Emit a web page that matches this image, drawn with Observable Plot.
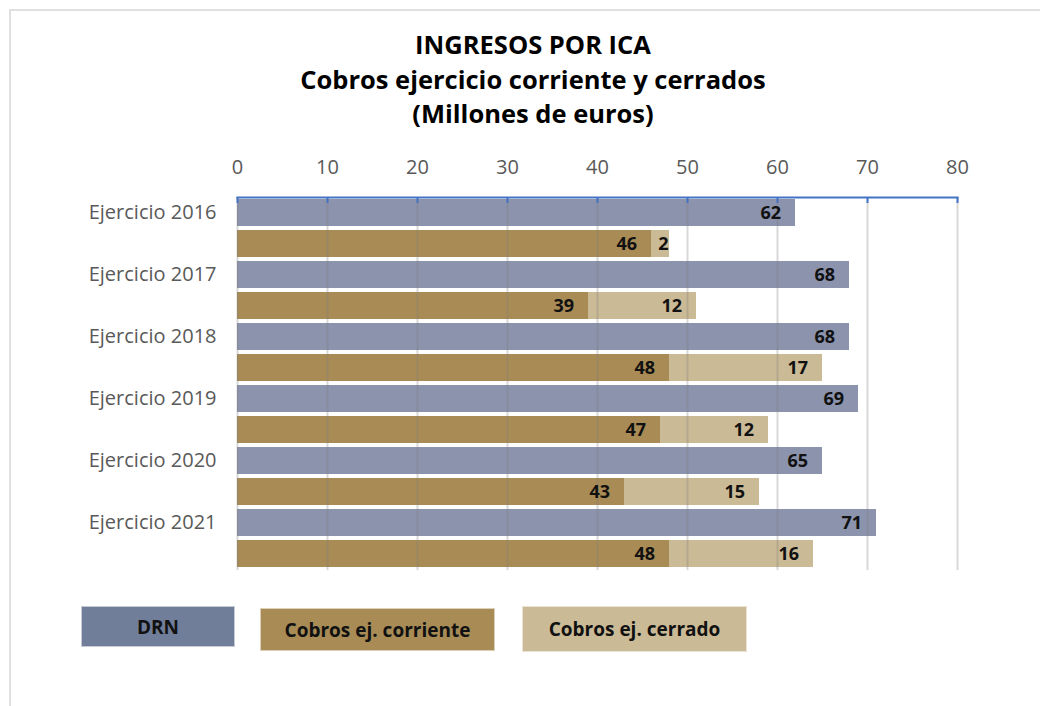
<!DOCTYPE html>
<html>
<head>
<meta charset="utf-8">
<script src="https://cdn.jsdelivr.net/npm/d3@7"></script>
<script src="https://cdn.jsdelivr.net/npm/@observablehq/plot@0.6"></script>
<style>
  html, body { margin: 0; padding: 0; background: #fff; }
  #wrap { position: relative; width: 1040px; height: 706px; overflow: hidden; font-family: "Open Sans", sans-serif; }
  #border { position: absolute; left: 9px; top: 9px; width: 1100px; height: 800px; border: 2px solid #e0e0e0; box-sizing: border-box; }
  #title { position: absolute; left: 0; top: 27px; width: 1066px; text-align: center; font-weight: bold; font-size: 25.5px; line-height: 34.5px; color: #000; }
  #chart { position: absolute; left: 0; top: 0; }
  .leg { position: absolute; display: flex; align-items: center; justify-content: center; font-weight: bold; font-size: 19px; color: #111; box-sizing: border-box; }
</style>
</head>
<body>
<div id="wrap">
  <div id="border"></div>
  <div id="chart"></div>
  <div id="title">INGRESOS POR ICA<br>Cobros ejercicio corriente y cerrados<br>(Millones de euros)</div>
  <div id="legend"></div>
</div>
<script>
const years = ["2016", "2017", "2018", "2019", "2020", "2021"];
const drn = [62, 68, 68, 69, 65, 71];
const corriente = [46, 39, 48, 47, 43, 48];
const cerrado = [2, 12, 17, 12, 15, 16];
const xTicks = [0, 10, 20, 30, 40, 50, 60, 70, 80];
const seriesNames = ["DRN", "Cobros ej. corriente", "Cobros ej. cerrado"];
const seriesColors = ["#8b93ad", "#a88b55", "#cbba96"];
const legendColors = ["#717e99", "#a88b55", "#cbba96"];

// table built from the arrays (stacked manually: x1/x2 in data units)
const rows = [];
const keys = [];
const labelOf = {};
years.forEach((y, i) => {
  const kd = y + " DRN", kc = y + " Cobros";
  keys.push(kd, kc);
  labelOf[kd] = "Ejercicio " + y;
  labelOf[kc] = "";
  rows.push({key: kd, series: seriesNames[0], value: drn[i], x1: 0, x2: drn[i]});
  rows.push({key: kc, series: seriesNames[1], value: corriente[i], x1: 0, x2: corriente[i]});
  rows.push({key: kc, series: seriesNames[2], value: cerrado[i], x1: corriente[i], x2: corriente[i] + cerrado[i]});
});
// label anchor: inside end of segment, but never before the segment start when it does not fit
const labelX = d => Math.max(d.x2 - 1.6, d.x1 + 1.9);

const H = 590, mTop = 197, mBottom = 20;
const chart = Plot.plot({
  width: 1040,
  height: H,
  marginTop: mTop,
  marginBottom: mBottom,
  marginLeft: 237,
  marginRight: 83,
  style: {fontFamily: "Open Sans, sans-serif", fontSize: "17px", background: "transparent"},
  x: {domain: [0, 80], axis: null, label: null},
  y: {domain: keys, paddingInner: 0.12, paddingOuter: 0.05, axis: null, label: null},
  color: {domain: seriesNames, range: seriesColors},
  marks: [
    Plot.barX(rows, {x1: "x1", x2: "x2", y: "key", fill: "series"}),
    Plot.ruleX(xTicks, {x: d => d, stroke: "#7f7f7f", strokeOpacity: 0.3, strokeWidth: 2}),
    Plot.ruleX(xTicks, {x: d => d, stroke: "#4472c4", strokeWidth: 2, insetBottom: H - mTop - mBottom - 6}),
    Plot.frame({anchor: "top", stroke: "#4472c4", strokeWidth: 2}),
    Plot.text(rows, {x: labelX, y: "key", text: "value", textAnchor: "end", fontWeight: "bold", fontSize: 18, fill: "#111"}),
    Plot.axisX({anchor: "top", ticks: xTicks, tickSize: 0, tickPadding: 24, color: "#595959", fontSize: 20, label: null}),
    Plot.axisY({anchor: "left", tickSize: 0, tickPadding: 21, tickFormat: k => labelOf[k], color: "#595959", fontSize: 20, label: null})
  ]
});
document.getElementById("chart").appendChild(chart);

const legendBoxes = [
  {left: 81, top: 606, width: 154, height: 41},
  {left: 260, top: 608, width: 235, height: 43},
  {left: 522, top: 606, width: 225, height: 46}
];
const legend = document.getElementById("legend");
seriesNames.forEach((name, i) => {
  const d = document.createElement("div");
  d.className = "leg";
  const b = legendBoxes[i];
  d.style.left = b.left + "px";
  d.style.top = b.top + "px";
  d.style.width = b.width + "px";
  d.style.height = b.height + "px";
  d.style.background = legendColors[i];
  d.style.border = "1px solid rgba(255,255,255,0.6)";
  d.textContent = name;
  legend.appendChild(d);
});
</script>
</body>
</html>
